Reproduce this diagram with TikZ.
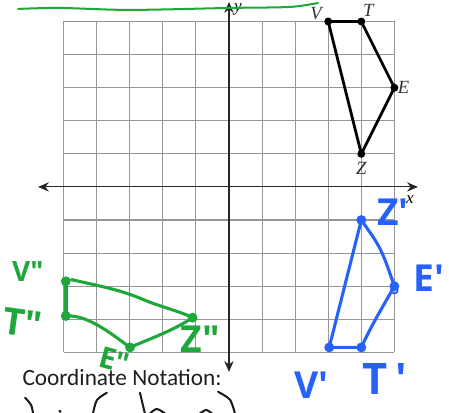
\documentclass[tikz,border=0pt]{standalone}
\usepackage{fontspec}
\newfontfamily\notefont{Carlito}
\newfontfamily\handfont{Open Sans}
\newfontfamily\labfont{Liberation Serif}
\definecolor{inkgreen}{RGB}{30,168,58}
\definecolor{inkblue}{RGB}{38,98,250}
\definecolor{gridgray}{RGB}{150,150,150}
\usetikzlibrary{arrows.meta, positioning}

\begin{document}
\begin{tikzpicture}[
    x=0.75cm, y=0.75cm,
    gridline/.style={draw=gridgray, line width=0.7pt},
    axis/.style={{Stealth[length=7pt,width=6pt]}-{Stealth[length=7pt,width=6pt]},
                 line width=0.7pt, black!85},
    axlab/.style={font=\labfont\itshape\fontsize{11}{13}\selectfont, inner sep=1pt},
    ptlab/.style={font=\labfont\itshape\fontsize{12}{14}\selectfont, inner sep=1pt, text=black!80},
    figline/.style={line width=1.8pt, line join=round},
    blueink/.style={inkblue, line width=2pt, line cap=round, line join=round},
    greenink/.style={inkgreen, line width=2pt, line cap=round, line join=round},
    hand/.style={font=\handfont\bfseries\fontsize{24}{26}\selectfont, inner sep=0pt},
    pen/.style={black!90, line width=1.3pt, line cap=round}
  ]
    \useasboundingbox (-6.92,-6.83) rectangle (6.65,5.65);
    \clip (-6.92,-6.83) rectangle (6.65,5.65);

    % Grid
    \draw[gridline, step=0.75cm] (-5,-5) grid (5,5);

    % Axes
    \coordinate (xl) at (-5.77,0);
    \coordinate (xr) at (5.71,0);
    \coordinate (yt) at (0,5.59);
    \coordinate (yb) at (0,-5.59);
    \draw[axis] (xl) -- (xr);
    \draw[axis] (yb) -- (yt);
    \node[axlab] (ylab) at (0.27,5.38) {y};
    \node[axlab] (xlab) at (5.47,-0.39) {x};

    % Original figure
    \coordinate (V) at (3,5);
    \coordinate (T) at (4,5);
    \coordinate (E) at (5,3);
    \coordinate (Z) at (4,1);
    \draw[figline] (V) -- (T) -- (E) -- (Z) -- cycle;
    \foreach \p in {V,T,E,Z} \fill (\p) circle (0.12);
    \node[ptlab, above left=0pt and 3pt of V] (vlab) {V};
    \node[ptlab, above right=2pt and 0pt of T] (tlab) {T};
    \node[ptlab, right=1pt of E] (elab) {E};
    \node[ptlab, below=4pt of Z] (zlab) {Z};

    % Reflection (blue)
    \coordinate (Zp) at (4,-1);
    \coordinate (Ep) at (5,-3);
    \coordinate (Tp) at (4,-4.85);
    \coordinate (Vp) at (3.03,-4.85);
    \draw[blueink] (Zp) -- (Vp) -- (Tp);
    \draw[blueink] (Zp) .. controls (4.6,-1.85) .. (Ep);
    \draw[blueink] (Ep) .. controls (4.6,-3.7) and (4.3,-4.2) .. (Tp);
    \foreach \p in {Zp,Ep,Tp,Vp} \fill[inkblue] (\p) circle (0.15);
    \draw[inkblue, line width=1.2pt] (5.0,-3.12) circle (0.1);
    \node[hand, text=inkblue, right=0.35cm of Zp, yshift=0.18cm] (zplab) {Z\textquotesingle};
    \node[hand, text=inkblue, right=0.42cm of Ep, yshift=0.19cm] (eplab) {E\textquotesingle};
    \node[hand, text=inkblue, below=0.55cm of Vp, xshift=-0.41cm] (vplab) {V\textquotesingle};
    \node[hand, text=inkblue, below=0.35cm of Tp, xshift=0.53cm, font=\handfont\bfseries\fontsize{28}{30}\selectfont] (tplab) {T\,\textquotesingle};

    % Reflection (green)
    \coordinate (Vpp) at (-4.93,-2.85);
    \coordinate (Tpp) at (-4.93,-3.9);
    \coordinate (Epp) at (-2.99,-4.85);
    \coordinate (Zpp) at (-1.1,-3.95);
    \draw[greenink, line width=3pt] (Vpp) -- (Tpp);
    \draw[greenink] (Vpp) ++(0.17,0.05) .. controls (-3.9,-3.0) and (-3.3,-3.1) .. (-2.6,-3.4)
        .. controls (-2.0,-3.65) and (-1.5,-3.75) .. (Zpp);
    \draw[greenink] (Tpp) .. controls (-4.3,-3.85) and (-3.6,-4.4) .. (Epp);
    \draw[greenink] (Epp) .. controls (-2.3,-4.55) and (-1.7,-4.35) .. (Zpp);
    \foreach \p in {Vpp,Tpp,Epp,Zpp} \fill[inkgreen] (\p) circle (0.15);
    \node[hand, text=inkgreen, left=0.5cm of Vpp, yshift=0.23cm, font=\handfont\bfseries\fontsize{18}{20}\selectfont] (vpplab) {V\textquotedbl};
    \node[hand, text=inkgreen, left=0.54cm of Tpp, yshift=-0.23cm, rotate=-8] (tpplab) {T\textquotedbl};
    \node[hand, text=inkgreen, below=0.06cm of Epp, xshift=-0.29cm, rotate=-15, font=\handfont\bfseries\fontsize{19}{21}\selectfont] (epplab) {E\textquotedbl};
    \node[hand, text=inkgreen, below=0.17cm of Zpp, xshift=0.17cm] (zpplab) {Z\textquotedbl};

    % Top stroke
    \draw[inkgreen, line width=1.3pt, line cap=round] plot[smooth] coordinates
        {(-6.37,5.38) (-5.11,5.41) (-2.99,5.35) (0.03,5.41) (1.84,5.44) (2.69,5.56)};

    % Notation
    \node[font=\notefont\fontsize{15}{18}\selectfont, text=black!88, inner sep=0pt] (notation) at (-3.23,-5.77) {Coordinate Notation:};
    \draw[pen] plot[smooth] coordinates {(-6.16,-6.37) (-5.98,-6.59) (-5.92,-6.85)};
    \draw[pen] (-5.13,-6.76) -- (-5.09,-6.80);
    \draw[pen] plot[smooth] coordinates {(-3.69,-6.22) (-3.99,-6.44) (-4.11,-6.85)};
    \draw[pen] (-2.69,-6.22) -- (-2.54,-6.85);
    \draw[pen] plot[smooth] coordinates {(-2.39,-6.85) (-2.18,-6.71) (-1.93,-6.85)};
    \draw[pen] plot[smooth] coordinates {(-0.88,-6.85) (-0.69,-6.74) (-0.51,-6.85)};
    \draw[pen] plot[smooth] coordinates {(-0.33,-6.19) (0.03,-6.43) (0.18,-6.85)};
\end{tikzpicture}
\end{document}
